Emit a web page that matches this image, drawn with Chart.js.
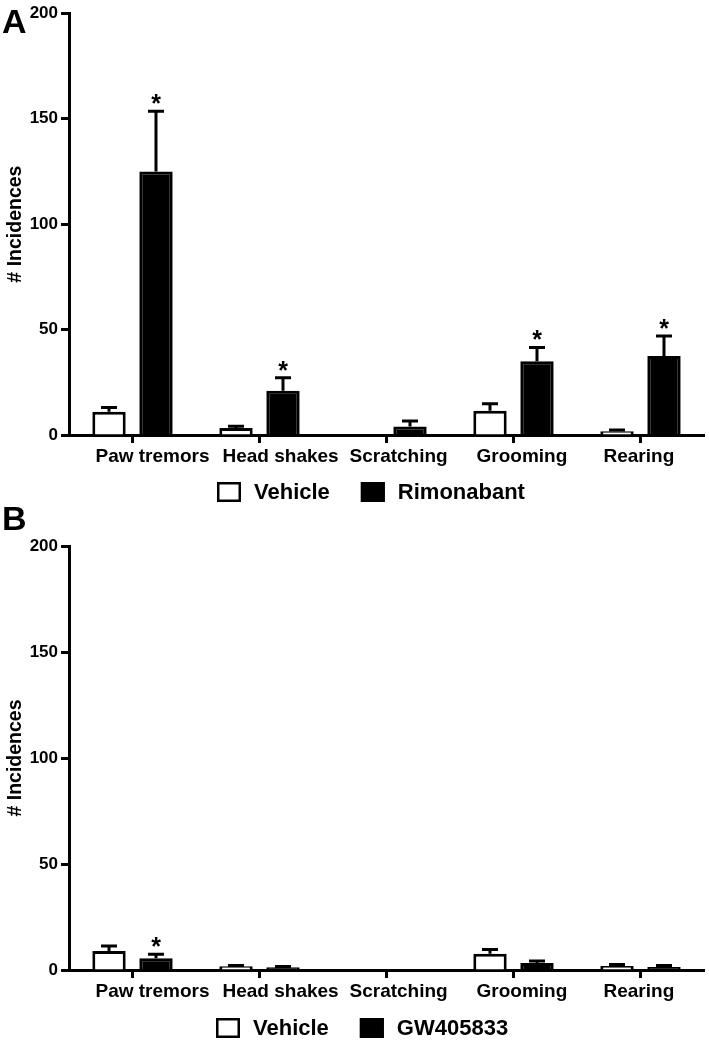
<!DOCTYPE html>
<html>
<head>
<meta charset="utf-8">
<script src="https://cdn.jsdelivr.net/npm/chart.js@4.4.1/dist/chart.umd.min.js"></script>
<style>
  html, body { margin: 0; padding: 0; background: #fff; overflow: hidden; }
  .panel { position: absolute; left: 0; }
  #panelA { top: 0; }
  #panelB { top: 498px; }
</style>
</head>
<body>
<div class="panel" id="panelA"><canvas id="chartA" width="709" height="510"></canvas></div>
<div class="panel" id="panelB"><canvas id="chartB" width="709" height="545"></canvas></div>
<script>
const categories = ['Paw tremors', 'Head shakes', 'Scratching', 'Grooming', 'Rearing'];
const yTicks = [0, 50, 100, 150, 200];

// panel A
const vehicleA = [11, 3.3, 0, 11.5, 1.8];
const vehicleErrA = [2, 0.9, 0, 3.3, 0.6];
const rimonabantA = [125, 21, 4, 35, 37.5];
const rimonabantErrA = [28.5, 6.2, 2.6, 6.5, 9.5];
const rimonabantSigA = [true, true, false, true, true];

// panel B
const vehicleB = [9, 1.8, 0, 7.7, 1.9];
const vehicleErrB = [2.3, 0.3, 0, 2, 0.7];
const gwB = [5.5, 1.3, 0.3, 3.3, 1.4];
const gwErrB = [1.9, 0.3, 0, 1, 0.7];
const gwSigB = [true, false, false, false, false];

const FONT = "'Liberation Sans', Arial, Helvetica, sans-serif";

const decorPlugin = {
    id: 'decor',
    afterDatasetsDraw(chart) {
        const ctx = chart.ctx;
        const yScale = chart.scales.y;
        ctx.save();
        ctx.strokeStyle = '#000';
        ctx.fillStyle = '#000';
        ctx.lineWidth = 3;
        chart.data.datasets.forEach((ds, di) => {
            const meta = chart.getDatasetMeta(di);
            meta.data.forEach((bar, i) => {
                const err = ds.errors[i];
                if (!err) return;
                const top = yScale.getPixelForValue(ds.data[i] + err);
                ctx.beginPath();
                ctx.moveTo(bar.x, bar.y);
                ctx.lineTo(bar.x, top);
                ctx.moveTo(bar.x - 8, top);
                ctx.lineTo(bar.x + 8, top);
                ctx.stroke();
                if (ds.stars && ds.stars[i]) {
                    ctx.font = 'bold 25px ' + FONT;
                    ctx.textAlign = 'center';
                    ctx.textBaseline = 'alphabetic';
                    ctx.fillText('*', bar.x, top + 1);
                }
            });
        });
        ctx.restore();
    },
    afterDraw(chart, args, opts) {
        const ctx = chart.ctx;
        ctx.save();
        ctx.fillStyle = '#000';
        ctx.textAlign = 'left';
        ctx.textBaseline = 'alphabetic';
        ctx.font = 'bold 34px ' + FONT;
        ctx.fillText(opts.letter, 2, opts.letterY);

        // legend
        let x = opts.legendX;
        const yc = opts.legendY;
        ctx.font = 'bold 22px ' + FONT;
        ctx.textBaseline = 'middle';
        ctx.lineWidth = 2.5;
        chart.data.datasets.forEach(ds => {
            ctx.fillStyle = ds.backgroundColor;
            ctx.fillRect(x, yc - 10, 24, 20);
            ctx.strokeStyle = '#000';
            ctx.strokeRect(x + 1.25, yc - 8.75, 21.5, 17.5);
            ctx.fillStyle = '#000';
            ctx.fillText(ds.label, x + 37, yc + 1);
            x += 37 + ctx.measureText(ds.label).width + 31;
        });
        ctx.restore();
    }
};

function makeChart(id, series, pad, decor) {
    return new Chart(document.getElementById(id), {
        type: 'bar',
        data: {
            labels: categories,
            datasets: series.map(s => ({
                label: s.label,
                data: s.data,
                errors: s.errors,
                stars: s.stars,
                backgroundColor: s.fill,
                borderColor: '#000',
                borderWidth: 3,
                categoryPercentage: 0.74,
                barPercentage: 0.71
            }))
        },
        options: {
            responsive: false,
            animation: false,
            events: [],
            layout: { padding: pad },
            plugins: {
                legend: { display: false },
                tooltip: { enabled: false },
                decor: decor
            },
            scales: {
                x: {
                    afterFit: s => {
                        s.height = 35;
                        s.paddingLeft = 0;
                        s.paddingRight = 0;
                    },
                    grid: {
                        offset: false,
                        drawOnChartArea: false,
                        tickLength: 8,
                        tickWidth: 3,
                        tickColor: '#000'
                    },
                    border: { color: '#000', width: 3 },
                    ticks: {
                        align: 'start',
                        labelOffset: -37,
                        padding: 2,
                        maxRotation: 0,
                        color: '#000',
                        font: { family: FONT, size: 19, weight: 'bold' }
                    }
                },
                y: {
                    min: 0,
                    max: 200,
                    afterFit: s => { s.width = 69; },
                    afterBuildTicks: s => { s.ticks = yTicks.map(v => ({ value: v })); },
                    grid: {
                        drawOnChartArea: false,
                        tickLength: 8,
                        tickWidth: 3,
                        tickColor: '#000'
                    },
                    border: { color: '#000', width: 3 },
                    ticks: {
                        padding: 3,
                        color: '#000',
                        font: { family: FONT, size: 17, weight: 'bold' }
                    },
                    title: {
                        display: true,
                        text: '# Incidences',
                        color: '#000',
                        padding: { top: 4, bottom: 0 },
                        font: { family: FONT, size: 19.5, weight: 'bold' }
                    }
                }
            }
        },
        plugins: [decorPlugin]
    });
}

makeChart('chartA', [
    { label: 'Vehicle', data: vehicleA, errors: vehicleErrA, fill: '#ffffff' },
    { label: 'Rimonabant', data: rimonabantA, errors: rimonabantErrA, stars: rimonabantSigA, fill: '#000000' }
], { top: 11, left: 0, right: 5, bottom: 40 }, { letter: 'A', letterY: 33, legendX: 217, legendY: 492 });

makeChart('chartB', [
    { label: 'Vehicle', data: vehicleB, errors: vehicleErrB, fill: '#ffffff' },
    { label: 'GW405833', data: gwB, errors: gwErrB, stars: gwSigB, fill: '#000000' }
], { top: 48, left: 0, right: 5, bottom: 38 }, { letter: 'B', letterY: 32, legendX: 216, legendY: 530 });
</script>
</body>
</html>
